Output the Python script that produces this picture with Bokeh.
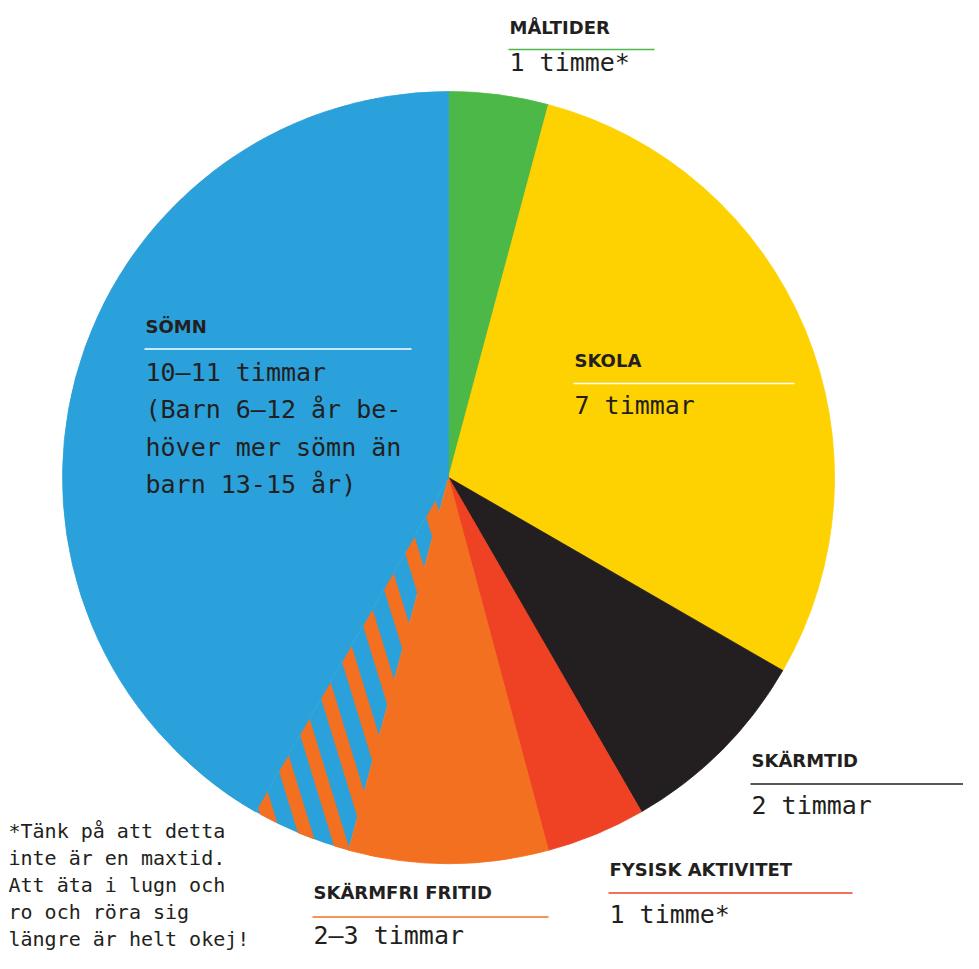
import math
from bokeh.plotting import figure
from bokeh.models import Range1d
from bokeh.core.properties import value
from bokeh.embed import file_html
from bokeh.resources import INLINE

# ---------------- data ----------------
slice_names = ["MÅLTIDER", "SKOLA", "SKÄRMTID", "FYSISK AKTIVITET",
               "SKÄRMFRI FRITID", "SKÄRMFRI FRITID / SÖMN", "SÖMN"]
slice_hours = [1, 7, 2, 1, 2, 1, 10]
slice_colors = ["#4CB848", "#FDD200", "#231F20", "#EF4123",
                "#F37021", "#2AA1DB", "#2AA1DB"]
slice_hatched = [False, False, False, False, False, True, False]
hatch_color = "#F37021"

label_titles = ["MÅLTIDER", "SKOLA", "SÖMN", "SKÄRMTID",
                "FYSISK AKTIVITET", "SKÄRMFRI FRITID"]
label_values = [["1 timme*"],
                ["7 timmar"],
                ["10–11 timmar", "(Barn 6–12 år be-", "höver mer sömn än", "barn 13-15 år)"],
                ["2 timmar"],
                ["1 timme*"],
                ["2–3 timmar"]]
label_rule_colors = ["#4CB848", "#FFFFFF", "#FFFFFF", "#231F20", "#EF4123", "#F37021"]

footnote_lines = ["*Tänk på att detta", "inte är en maxtid.", "Att äta i lugn och",
                  "ro och röra sig", "längre är helt okej!"]

# ---------------- layout ----------------
W, H = 963, 953
IMG_H = 969


def Y(img_y):
    return IMG_H - img_y


CX, CY, R = 448, Y(477), 386
TEXT = "#231F20"
TITLE_SHIFT, VALUE_SHIFT, NOTE_SHIFT = 8, 9, 8   # renderer baseline compensation

# label layout: x, title baseline, rule y, rule x0, rule x1, first value baseline, line step
label_layout = [
    (509, 35, 49, 508, 654, 71, 0),
    (574, 368, 383, 573, 794, 414, 0),
    (145, 334, 348.5, 144, 411, 380.5, 37.5),
    (751, 768, 783.5, 750, 985, 814, 0),
    (609, 877, 892.5, 608, 852, 923, 0),
    (313, 900, 916.5, 312, 548, 944, 0),
]

p = figure(width=W, height=H, x_range=Range1d(0, W), y_range=Range1d(IMG_H - H, IMG_H),
           output_backend="svg", toolbar_location=None, min_border=0,
           background_fill_color="white", border_fill_color="white",
           outline_line_color=None)
p.axis.visible = False
p.grid.visible = False

# angles (clockwise from top)
total = sum(slice_hours)
starts, ends = [], []
acc = 0
for h in slice_hours:
    starts.append(acc / total * 360.0)
    acc += h
    ends.append(acc / total * 360.0)


def std(a):
    return math.radians(90 - a)


# 1. base of hatched slice
for i, hflag in enumerate(slice_hatched):
    if hflag:
        p.wedge(x=CX, y=CY, radius=R, start_angle=std(starts[i]), end_angle=std(ends[i]),
                direction="clock", fill_color=slice_colors[i], line_color=None)

# 2. stripes (clipped by overdrawing the other slices afterwards)
tilt = math.radians(17)
nx, ny = math.cos(tilt), math.sin(tilt)
dx, dy = math.sin(tilt), -math.cos(tilt)
hidx = slice_hatched.index(True)
bang = std(ends[hidx])
proj = nx * math.cos(bang) + ny * math.sin(bang)
period, band, first = 42.0, 19.0, 362.0
sx, sy = [], []
for k in range(-2, 11):
    r_right = first - period * k
    r_left = r_right + band
    s1 = proj * r_right
    s0 = proj * r_left
    T0 = math.sqrt(max(R * R - s0 * s0, 0.0))
    T1 = math.sqrt(max(R * R - s1 * s1, 0.0))
    if T0 == 0 and T1 == 0:
        continue
    pts = [(s0, -T0), (s0, T0), (s1, T1), (s1, -T1)]
    sx.append([CX + s * nx + t * dx for s, t in pts])
    sy.append([CY + s * ny + t * dy for s, t in pts])
p.patches(xs=sx, ys=sy, fill_color=hatch_color, line_color=None)

# 3. solid slices
for i, hflag in enumerate(slice_hatched):
    if not hflag:
        p.wedge(x=CX, y=CY, radius=R, start_angle=std(starts[i]), end_angle=std(ends[i]),
                direction="clock", fill_color=slice_colors[i],
                line_color=slice_colors[i], line_width=0.8)

# 4. labels
tx, ty, tt = [], [], []
vx, vy, vt = [], [], []
rx0, rx1, ry, rc = [], [], [], []
for title, vals, col, lay in zip(label_titles, label_values, label_rule_colors, label_layout):
    x, tb, ryy, x0, x1, vb, step = lay
    tx.append(x); ty.append(Y(tb - TITLE_SHIFT)); tt.append(title)
    rx0.append(x0); rx1.append(x1); ry.append(Y(ryy)); rc.append(col)
    for j, v in enumerate(vals):
        vx.append(x); vy.append(Y(vb + j * step - VALUE_SHIFT)); vt.append(v)

p.segment(x0=rx0, y0=ry, x1=rx1, y1=ry, line_color=rc, line_width=1.6)
p.text(x=tx, y=ty, text=tt, text_font=value("DejaVu Sans"), text_font_style="bold",
       text_font_size="18px", text_color=TEXT, text_baseline="alphabetic", text_align="left")
p.text(x=vx, y=vy, text=vt, text_font=value("DejaVu Sans Mono"),
       text_font_size="25px", text_color=TEXT, text_baseline="alphabetic", text_align="left")

fx = [8] * len(footnote_lines)
fy = [Y(838 + 27 * i - NOTE_SHIFT) for i in range(len(footnote_lines))]
p.text(x=fx, y=fy, text=footnote_lines, text_font=value("DejaVu Sans Mono"),
       text_font_size="20px", text_color=TEXT, text_baseline="alphabetic", text_align="left")

open("out.html", "w").write(file_html(p, INLINE))
